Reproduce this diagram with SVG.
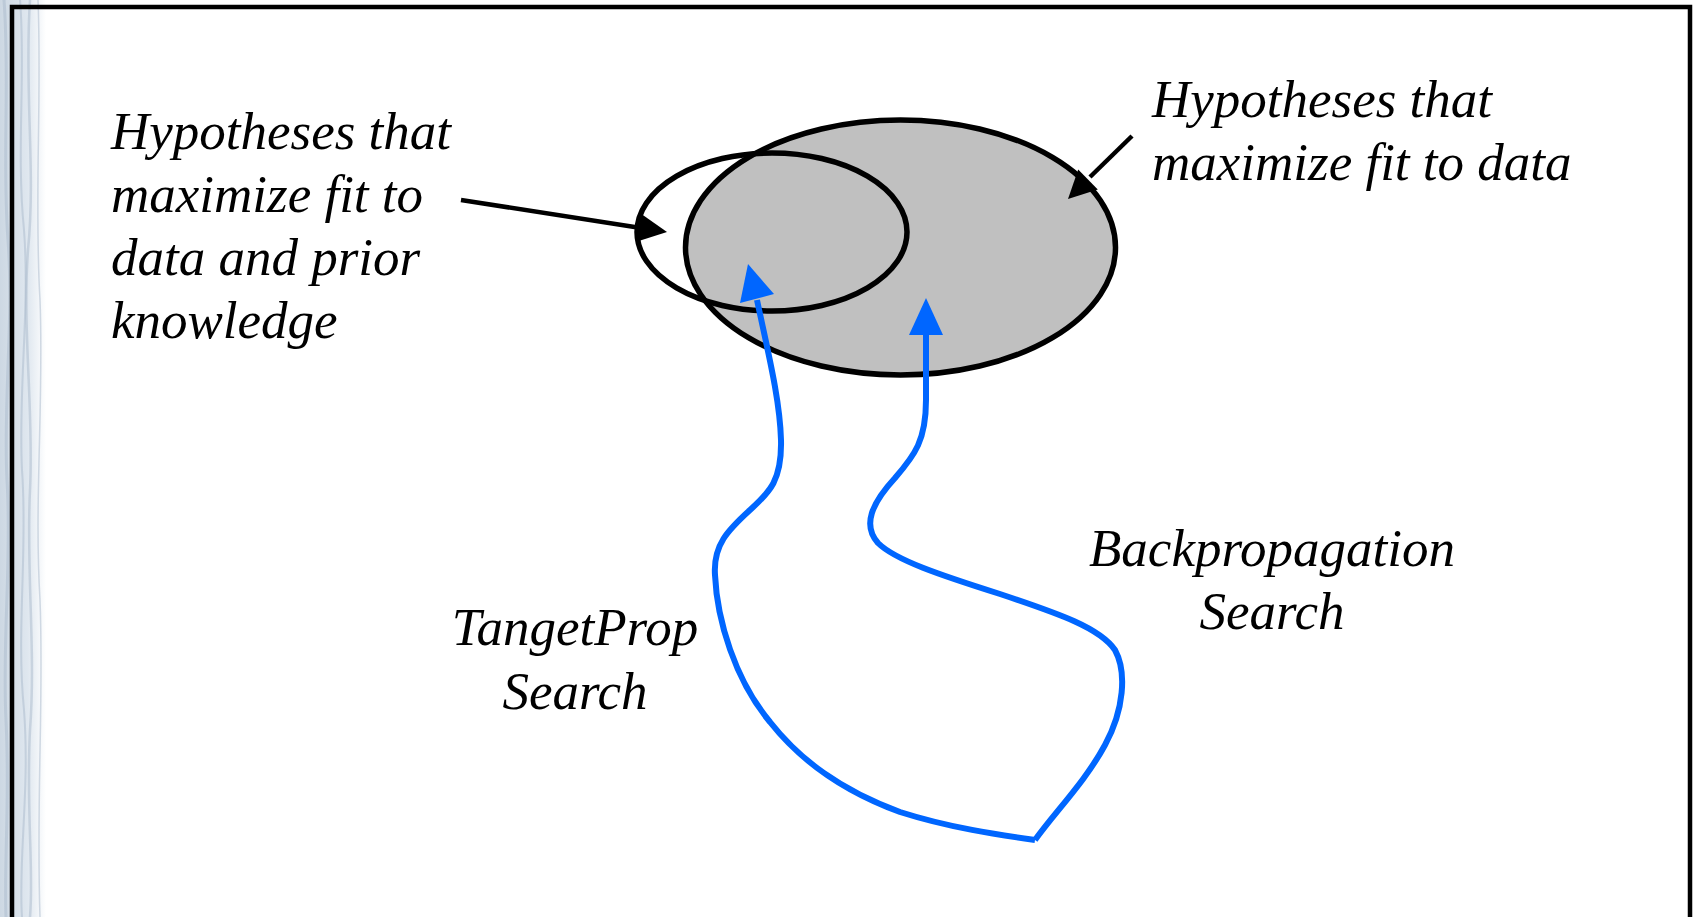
<svg xmlns="http://www.w3.org/2000/svg" width="1694" height="917" viewBox="0 0 1694 917">
  <defs>
    <style>
      .lbl { font-family: "Liberation Serif", serif; font-style: italic; font-size: 53px; fill: #000; }
      .blk { fill: none; stroke: #000; stroke-width: 4.5; }
      .blue { fill: none; stroke: #0066FF; stroke-width: 6; stroke-linejoin: round; }
      .bluehead { fill: #0066FF; }
      .ell { stroke: #000; stroke-width: 5.5; }
      .streak { fill: none; stroke: #a9bacb; stroke-opacity: 0.5; }
    </style>
    <linearGradient id="tex" x1="0" y1="0" x2="1" y2="0">
      <stop offset="0" stop-color="#cdd8e3"/>
      <stop offset="0.6" stop-color="#dfe7ef"/>
      <stop offset="1" stop-color="#ffffff"/>
    </linearGradient>
  </defs>

  <rect x="0" y="0" width="1694" height="917" fill="#ffffff"/>

  <g id="texture">
    <rect x="0" y="0" width="46" height="917" fill="url(#tex)"/>
    <path class="streak" stroke-width="3" d="M4,0 C10,80 2,160 8,240 C14,320 3,400 7,480 C12,560 2,640 6,720 C10,800 4,860 6,917"/>
    <path class="streak" stroke-width="2" d="M20,0 C26,70 16,150 24,230 C30,310 18,390 22,470 C28,550 16,630 24,710 C30,790 18,860 22,917"/>
    <path class="streak" stroke-width="2.5" d="M30,0 C24,90 36,170 28,250 C22,330 34,410 30,490 C26,570 36,650 30,730 C26,810 34,870 30,917"/>
    <path class="streak" stroke-width="1.5" d="M38,0 C42,100 34,200 40,300 C44,400 34,500 40,600 C44,700 36,800 40,917"/>
  </g>

  <g id="frame">
    <path d="M12,917 V7 H1690 V917" fill="none" stroke="#000" stroke-width="4.5"/>
  </g>

  <g id="node-fit-data">
    <ellipse class="ell" cx="900.5" cy="247.5" rx="215" ry="127.5" fill="#C0C0C0"/>
  </g>
  <g id="node-fit-data-prior">
    <ellipse class="ell" cx="772" cy="232" rx="135" ry="79" fill="none"/>
  </g>

  <g id="connectors">
    <line class="blk" x1="461" y1="200" x2="641" y2="228"/>
    <polygon points="667,232 641.4,213.9 637.2,241.5" fill="#000"/>
    <line class="blk" x1="1132" y1="136" x2="1090" y2="177"/>
    <polygon points="1068,199 1097.8,189.4 1078.2,169.4" fill="#000"/>

    <path class="blue" d="M757,300 C768,352 780,400 781,440 C782,480 770,492 750,510 C728,530 713,545 715,575 C717,620 735,680 770,722 C800,760 840,790 900,812 C950,828 1000,835 1035,840"/>
    <polygon class="bluehead" points="748,264 740,303 774,294"/>
    <path class="blue" d="M926,330 L926,400 C926,440 915,455 895,478 C872,503 862,525 878,543 C895,560 940,575 1000,594 C1060,614 1100,628 1115,650 C1127,672 1124,710 1105,745 C1085,782 1055,812 1035,840"/>
    <polygon class="bluehead" points="926,298 909,335 943,335"/>
  </g>

  <g id="label-prior">
    <text class="lbl" x="111" y="149">Hypotheses that</text>
    <text class="lbl" x="111" y="212">maximize fit to</text>
    <text class="lbl" x="111" y="275">data and prior</text>
    <text class="lbl" x="111" y="338">knowledge</text>
  </g>
  <g id="label-data">
    <text class="lbl" x="1152" y="117">Hypotheses that</text>
    <text class="lbl" x="1152" y="180">maximize fit to data</text>
  </g>
  <g id="label-tangentprop">
    <text class="lbl" x="575" y="645" text-anchor="middle">TangetProp</text>
    <text class="lbl" x="575" y="709" text-anchor="middle">Search</text>
  </g>
  <g id="label-backprop">
    <text class="lbl" x="1272" y="566" text-anchor="middle">Backpropagation</text>
    <text class="lbl" x="1272" y="629" text-anchor="middle">Search</text>
  </g>
</svg>
